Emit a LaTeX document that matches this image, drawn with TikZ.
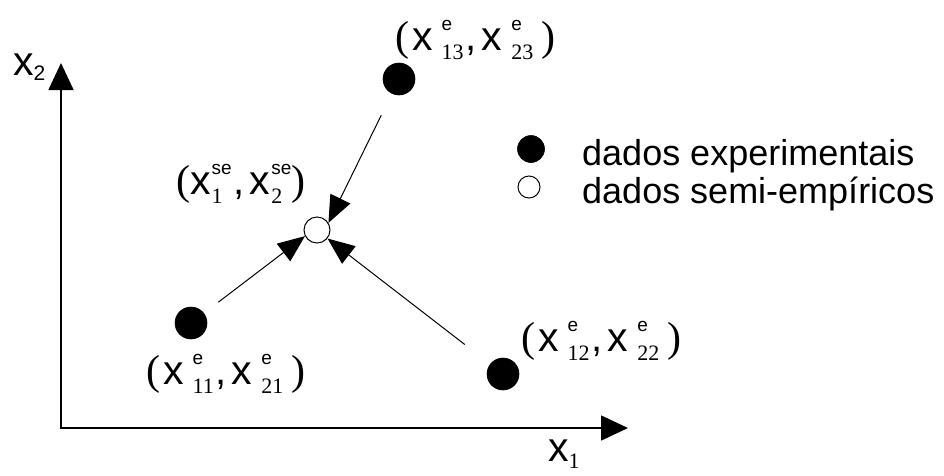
\documentclass[tikz,border=0pt]{standalone}
\usepackage{fontspec}
\setmainfont{Liberation Sans}
\newfontfamily\serf{Liberation Serif}
\usetikzlibrary{arrows.meta}
\newsavebox\supbx
\newsavebox\subbx
\newcommand{\xv}[3]{{\fontsize{41}{42}\selectfont x}\hspace{#3}%
  \sbox\supbx{\fontsize{19}{20}\selectfont #1}\sbox\subbx{\fontsize{22}{22}\serf #2}%
  \ifdim\wd\supbx>\wd\subbx
    \rlap{\raisebox{-9pt}{\usebox\subbx}}\raisebox{20pt}{\usebox\supbx}%
  \else
    \rlap{\raisebox{20pt}{\usebox\supbx}}\raisebox{-9pt}{\usebox\subbx}%
  \fi}
\newcommand{\pairlab}[7]{{\fontsize{42}{42}\serf(}\hspace{#6}\xv{#1}{#2}{#5}\hspace{2pt}{\fontsize{40}{40}\selectfont ,}\hspace{5pt}\xv{#3}{#4}{#5}\hspace{#7}{\fontsize{42}{42}\serf)}}
\tikzset{
  full/.style={circle, fill=black, draw=black, line width=0.6pt, minimum size=32pt, inner sep=0pt},
  hollow/.style={circle, fill=white, draw=black, line width=1pt, minimum size=26pt, inner sep=0pt},
  lab/.style={anchor=base west, inner sep=0pt},
  conn/.style={line width=1pt, -{Triangle[length=27pt,width=22pt]}},
  axis/.style={line width=1.6pt, {Triangle[length=27pt,width=25pt]}-{Triangle[length=27pt,width=25pt]}},
  legtext/.style={anchor=base west, inner sep=0pt, font=\fontsize{36}{38}\selectfont}
}
\begin{document}
\begin{tikzpicture}[x=1pt,y=-1pt]
\useasboundingbox (0,0) rectangle (944,475);
% axes
\coordinate (ytip) at (61,63);
\coordinate (xtip) at (628,428);
\draw[axis] (ytip) |- (xtip);
\node[lab] (x2) at (13,75) {{\fontsize{41}{42}\selectfont x}\raisebox{-5pt}{\fontsize{21}{21}\selectfont 2}};
\node[lab] (x1) at (548,461) {{\fontsize{41}{42}\selectfont x}\raisebox{-7pt}{\fontsize{22}{22}\serf 1}};
% points
\node[full] (p13) at (399,79) {};
\node[full] (p11) at (191,323) {};
\node[full] (p12) at (503,374) {};
\node[hollow] (se) at (317,230) {};
% labels
\node[lab] (l13) at (395,50) {\pairlab{e}{13}{e}{23}{9pt}{3pt}{8pt}};
\node[lab] (lse) at (176,194) {\pairlab{se}{1}{se}{2}{1pt}{0pt}{0pt}};
\node[lab] (l11) at (146,384) {\pairlab{e}{11}{e}{21}{9pt}{3pt}{8pt}};
\node[lab] (l12) at (521,351) {\pairlab{e}{12}{e}{22}{9pt}{3pt}{8pt}};
% connectors
\draw[conn, shorten <=24pt] (p13) -- (se.32);
\draw[conn, shorten <=18pt] (p11) -- (se.207);
\draw[conn, shorten <=32pt] (p12) -- (se.321);
% legend
\node[full, minimum size=27pt] (legf) at (531,149) {};
\node[hollow, minimum size=22pt] (lego) at (529,187) {};
\node[legtext] (legft) at (582,165) {dados experimentais};
\node[legtext] (legot) at (582,203) {dados semi-empíricos};
\end{tikzpicture}
\end{document}
